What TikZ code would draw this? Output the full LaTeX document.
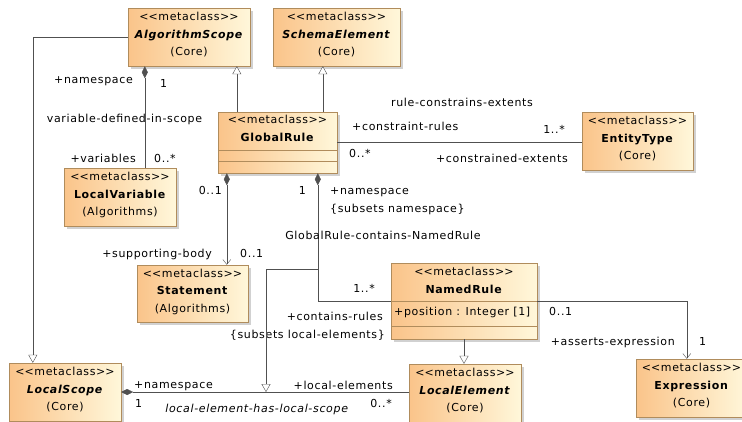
\documentclass[tikz,border=0pt]{standalone}
\usepackage{fontspec}
\setmainfont{DejaVu Sans}[LetterSpace=6]
\usetikzlibrary{arrows.meta, shadows}

\definecolor{clsleft}{RGB}{250,196,138}
\definecolor{clsright}{RGB}{255,247,218}
\definecolor{clsborder}{RGB}{176,140,92}
\definecolor{wire}{RGB}{80,80,80}

\newcommand{\mcls}{<\kern0pt<metaclass>\kern0pt>}

\begin{document}
\begin{tikzpicture}[
    x=1pt, y=-1pt,
    font=\fontsize{11}{17.5}\selectfont,
    metaclass/.style={rectangle, draw=clsborder, left color=clsleft, right color=clsright, align=center, inner sep=0pt,
        text depth=5.4pt, minimum height=58pt,
        drop shadow={shadow xshift=3pt, shadow yshift=-3pt, opacity=0.3, fill=black!60}},
    gen/.style={draw=wire, -{Triangle[length=8pt, width=9pt, fill=white]}},
    comp/.style={draw=wire, {Diamond[length=12pt, width=6pt]}-},
    compnav/.style={draw=wire, {Diamond[length=12pt, width=6pt]}-{Straight Barb[length=5pt, width=8pt]}},
    nav/.style={draw=wire, -{Straight Barb[length=5pt, width=8pt]}},
    assoc/.style={draw=wire},
    role/.style={anchor=base west, inner sep=0pt},
    roler/.style={anchor=base east, inner sep=0pt},
    assocname/.style={anchor=base, inner sep=0pt}
]
    \useasboundingbox (0,0) rectangle (742,421);

    % Metaclasses
    \node[metaclass, minimum width=122pt] (algscope) at (189, 37) {\mcls\\\textbf{\textit{AlgorithmScope}}\\(Core)};
    \node[metaclass, minimum width=127pt] (schemaelem) at (336.5, 37) {\mcls\\\textbf{\textit{SchemaElement}}\\(Core)};
    \node[metaclass, minimum width=119pt, minimum height=61pt, text depth=27.9pt] (globalrule) at (277.5, 142.5) {\mcls\\\textbf{GlobalRule}};
    \draw[clsborder] ([yshift=-38pt]globalrule.north west) -- ([yshift=-38pt]globalrule.north east);
    \draw[clsborder] ([yshift=-49pt]globalrule.north west) -- ([yshift=-49pt]globalrule.north east);
    \node[metaclass, minimum width=111pt] (entitytype) at (637.5, 141) {\mcls\\\textbf{EntityType}\\(Core)};
    \node[metaclass, minimum width=112pt] (localvar) at (120, 197) {\mcls\\\textbf{LocalVariable}\\(Algorithms)};
    \node[metaclass, minimum width=111pt, minimum height=57pt] (statement) at (192.5, 293.5) {\mcls\\\textbf{Statement}\\(Algorithms)};
    \node[metaclass, minimum width=146pt, minimum height=76pt, text depth=40.9pt] (namedrule) at (464, 301) {\mcls\\\textbf{NamedRule}};
    \draw[clsborder] ([yshift=-38pt]namedrule.north west) -- ([yshift=-38pt]namedrule.north east);
    \draw[clsborder] ([yshift=-63pt]namedrule.north west) -- ([yshift=-63pt]namedrule.north east);
    \node[role] (position) at (394, 315) {+position : Integer [1]};
    \node[metaclass, minimum width=112pt] (localelem) at (465, 393) {\mcls\\\textbf{\textit{LocalElement}}\\(Core)};
    \node[metaclass, minimum width=112pt] (localscope) at (65, 392) {\mcls\\\textbf{\textit{LocalScope}}\\(Core)};
    \node[metaclass, minimum width=111pt] (expression) at (691.5, 388) {\mcls\\\textbf{Expression}\\(Core)};

    % Generalizations
    \draw[gen] (algscope.west) -| ([xshift=24pt]localscope.north west);
    \draw[gen] ([xshift=19pt]globalrule.north west) -- ([xshift=19pt]globalrule.north west |- algscope.south);
    \draw[gen] ([xshift=105pt]globalrule.north west) -- ([xshift=105pt]globalrule.north west |- schemaelem.south);
    \draw[gen] (namedrule.south) -- (namedrule.south |- localelem.north);

    % variable-defined-in-scope
    \draw[comp] ([xshift=17pt]algscope.south west) -- ([xshift=17pt]algscope.south west |- localvar.north);
    \node[roler] (vdsns) at (133, 83) {+namespace};
    \node[role] (vdsone) at (160, 87) {1};
    \node[assocname] (vdsname) at (124.5, 122) {variable-defined-in-scope};
    \node[roler] (vdsvars) at (136, 162) {+variables};
    \node[role] (vdsmany) at (154, 162) {0..*};

    % rule-constrains-extents
    \draw[assoc] (globalrule.east) -- (globalrule.east -| entitytype.west);
    \node[assocname] (rcename) at (462, 106) {rule-constrains-extents};
    \node[role] (rcerules) at (352, 130) {+constraint-rules};
    \node[role] (rcemany) at (349, 157) {0..*};
    \node[roler] (rceone) at (565, 133) {1..*};
    \node[roler] (rceext) at (568, 162) {+constrained-extents};

    % supporting body
    \draw[compnav] ([xshift=9pt]globalrule.south west) -- ([xshift=9pt]globalrule.south west |- statement.north);
    \node[roler] (sbopt) at (222, 194) {0..1};
    \node[roler] (sbrole) at (212, 257) {+supporting-body};
    \node[role] (sbmult) at (240, 257) {0..1};

    % GlobalRule-contains-NamedRule
    \draw[comp] ([xshift=100pt]globalrule.south west) |- (namedrule.west);
    \node[roler] (gcnone) at (306, 194) {1};
    \node[role] (gcnns) at (330, 194) {+namespace};
    \node[role] (gcnsub) at (330, 212) {\{subsets namespace\}};
    \node[assocname] (gcnname) at (383, 239) {GlobalRule-contains-NamedRule};
    \node[roler] (gcnmany) at (375, 292) {1..*};
    \node[roler] (gcnrules) at (383, 320) {+contains-rules};
    \node[roler] (gcnsubs) at (385, 338) {\{subsets local-elements\}};
    \coordinate (gcnlink) at (318, 269);
    \coordinate (lelslink) at (266, 392);
    \draw[gen] (gcnlink) -| (lelslink);

    % local-element-has-local-scope
    \draw[comp] (localscope.east) -- (localscope.east -| localelem.west);
    \node[role] (lelsns) at (134, 388) {+namespace};
    \node[role] (lelsone) at (135, 407) {1};
    \node[roler] (lelselems) at (393, 389) {+local-elements};
    \node[roler] (lelsmany) at (392, 407) {0..*};
    \node[assocname] (lelsname) at (257, 412) {\textit{local-element-has-local-scope}};

    % asserts-expression
    \draw[nav] (namedrule.east) -| ([xshift=51pt]expression.north west);
    \node[role] (aeopt) at (549, 315) {0..1};
    \node[roler] (aerole) at (675, 345) {+asserts-expression};
    \node[role] (aeone) at (699, 345) {1};
\end{tikzpicture}
\end{document}
